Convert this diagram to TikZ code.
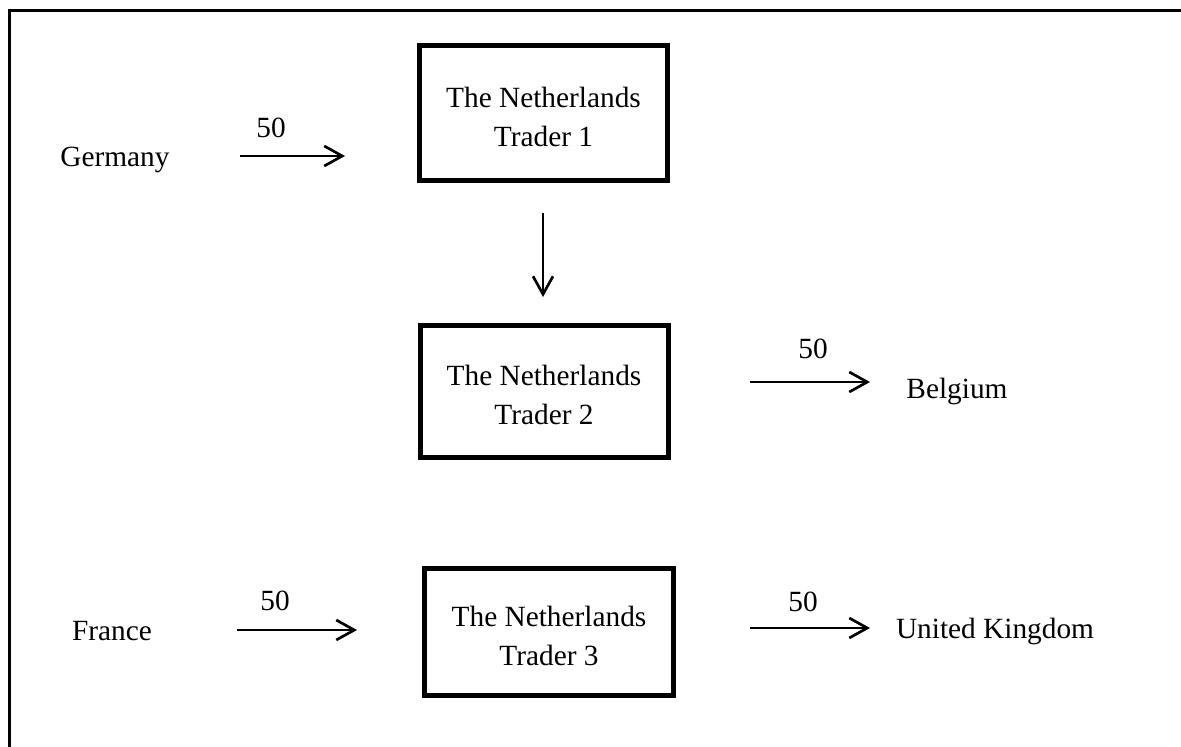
\documentclass[tikz,border=0pt]{standalone}
\usepackage{fontspec}
\setmainfont{Liberation Serif}
\usetikzlibrary{arrows.meta}
% taller first line, so the two lines of a desk sit a little low in their box
\newcommand\deskstrut{\rule{0pt}{21pt}}
\begin{document}
\begin{tikzpicture}[x=0.75pt,y=-0.75pt,
  every node/.style={font=\fontsize{22}{29.25}\selectfont, inner sep=0pt},
  trader/.style={draw, line width=3.75pt, align=center},
  place/.style={anchor=base},
  qty/.style={anchor=base},
  flow/.style={line width=2pt, -{Straight Barb[length=13.5pt,width=15pt,line width=2pt]}}]
\useasboundingbox (0,0) rectangle (1181,746);
% outer frame (its right and bottom sides fall off the page)
\draw[line width=2.25pt] (9.5,10.8) rectangle (1220,780);

% trading desks
\node[trader, minimum width=186pt, minimum height=101.25pt] (t1) at (543.5,113) {\deskstrut The Netherlands\\Trader 1};
\node[trader, minimum width=186pt, minimum height=99pt] (t2) at (544,391.5) {\deskstrut The Netherlands\\Trader 2};
\node[trader, minimum width=186.75pt, minimum height=95.25pt] (t3) at (549,632) {\deskstrut The Netherlands\\Trader 3};

% countries
\node[place] (de) at (115,166) {Germany};
\node[place] (be) at (957,398) {Belgium};
\node[place] (fr) at (112,640) {France};
\node[place] (uk) at (995,638) {United Kingdom};

% flow end points
\coordinate (deS) at (240,156);
\coordinate (deE) at (345,156);
\coordinate (dnS) at (543,213);
\coordinate (dnE) at (543,297);
\coordinate (beS) at (750,382);
\coordinate (beE) at (870,382);
\coordinate (frS) at (237,630);
\coordinate (frE) at (357,630);
\coordinate (ukS) at (750,628);
\coordinate (ukE) at (870,628);

\draw[flow] (deS) -- (deE);
\draw[flow] (dnS) -- (dnE);
\draw[flow] (beS) -- (beE);
\draw[flow] (frS) -- (frE);
\draw[flow] (ukS) -- (ukE);

% quantities
\node[qty] (q1) at (271,137) {50};
\node[qty] (q2) at (813,358) {50};
\node[qty] (q3) at (275,610) {50};
\node[qty] (q4) at (803,611) {50};
\end{tikzpicture}
\end{document}
